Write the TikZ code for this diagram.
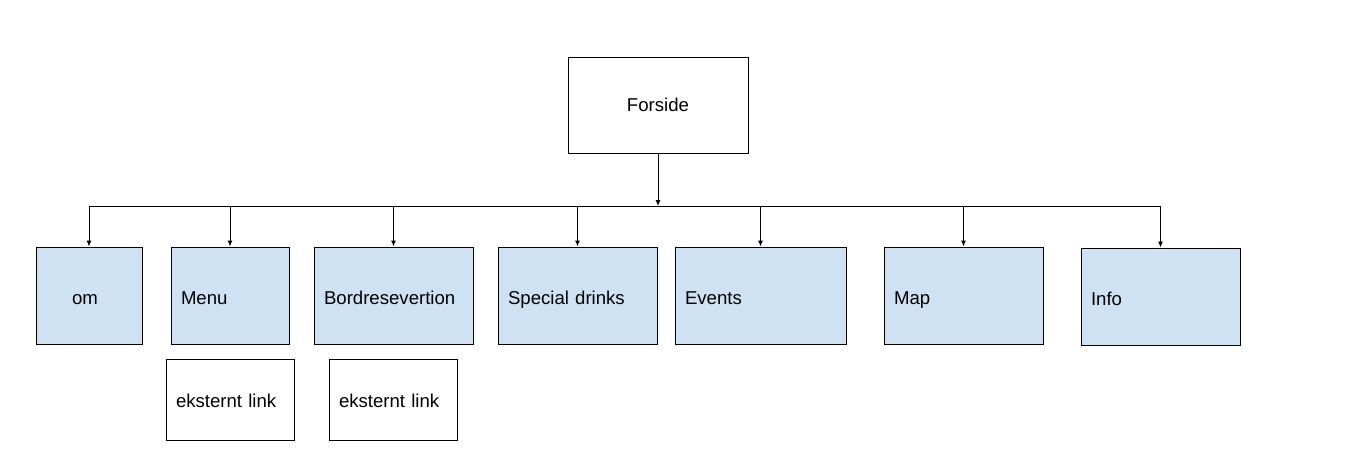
\documentclass[tikz,border=0pt]{standalone}
\usepackage{fontspec}
\setmainfont{Liberation Sans}
\usepackage{xcolor}
\usetikzlibrary{arrows.meta,positioning}
\definecolor{pageBlue}{HTML}{CFE2F3}
\tikzset{
    pageBox/.style={
        draw,
        line width=0.5pt,
        fill=pageBlue,
        align=left,
        inner xsep=5pt,
        text height=9pt,
        text depth=0.5pt,
        minimum height=48.5pt,
        font=\fontsize{9.3}{11}\selectfont
    },
    topBox/.style={
        draw,
        line width=0.5pt,
        fill=white,
        align=center,
        text height=7pt,
        text depth=1pt,
        minimum width=90pt,
        minimum height=48pt,
        font=\fontsize{9.3}{11}\selectfont
    },
    linkBox/.style={
        draw,
        line width=0.5pt,
        fill=white,
        align=left,
        inner xsep=5pt,
        text width=54pt,
        text height=8pt,
        text depth=0.5pt,
        minimum height=40.5pt,
        font=\fontsize{9.3}{11}\selectfont
    },
    siteArrow/.style={
        -{Latex[length=3pt,width=2.6pt]},
        line width=0.5pt
    },
    siteLine/.style={
        line width=0.5pt
    }
}
\begin{document}
\begin{tikzpicture}[x=0.5pt,y=-0.5pt]
        \useasboundingbox (0,0) rectangle (1360,463);

        \node[topBox] (forside) at (658,105) {Forside};

        \coordinate (busL) at (90,206);
        \coordinate (busR) at (1160,206);

        \node[pageBox,inner xsep=18pt,text width=17pt] (om) at (89,295.5) {om};
        \node[pageBox,text width=49pt] (menu) at (230,295.5) {Menu};
        \node[pageBox,text width=69.5pt] (bord) at (393.5,295.5) {Bordresevertion};
        \node[pageBox,text width=69.5pt] (special) at (577.5,295.5) {Special drinks};
        \node[pageBox,text width=75.5pt] (events) at (760.5,295.5) {Events};
        \node[pageBox,text width=69.5pt] (map) at (963.5,295.5) {Map};
        \node[pageBox,text width=69.5pt] (info) at (1160.5,296.5) {Info};

        \node[linkBox] (menuLink) at (230,399.5) {eksternt link};
        \node[linkBox] (bordLink) at (393,399.5) {eksternt link};

        \draw[siteArrow] (forside.south) -- (forside.south |- busL);
        \draw[siteLine] (busL) -- (busR);
        \draw[siteArrow] (om.north |- busL) -- (om.north);
        \draw[siteArrow] (menu.north |- busL) -- (menu.north);
        \draw[siteArrow] (bord.north |- busL) -- (bord.north);
        \draw[siteArrow] (special.north |- busL) -- (special.north);
        \draw[siteArrow] (events.north |- busL) -- (events.north);
        \draw[siteArrow] (map.north |- busL) -- (map.north);
        \draw[siteArrow] (info.north |- busL) -- (info.north);
    \end{tikzpicture}
\end{document}
